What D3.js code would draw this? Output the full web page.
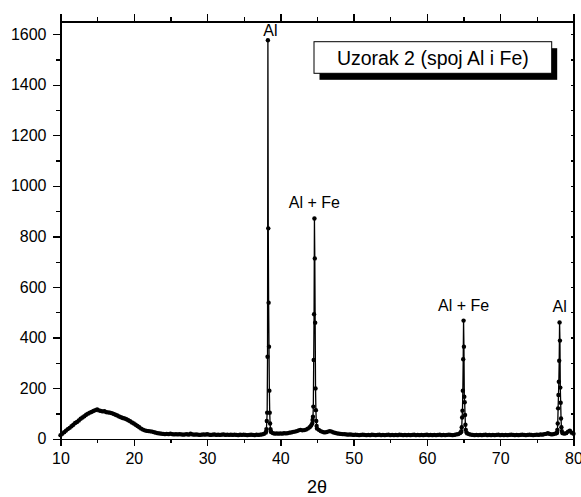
<!DOCTYPE html>
<html>
<head>
<meta charset="utf-8">
<script src="https://cdn.jsdelivr.net/npm/d3@7/dist/d3.min.js"></script>
<style>
  html, body { margin: 0; padding: 0; background: #fff; }
  svg { display: block; font-family: "Liberation Sans", Arial, sans-serif; }
  .axis path, .axis line { stroke: #000; stroke-width: 1.3; shape-rendering: crispEdges; }
  .axis text { font-size: 16px; fill: #000; }
</style>
</head>
<body>
<script>
// XRD scan of sample 2 (Al–Fe joint): [2θ, intensity]
const humpRegion = [
  [10.00,14],[10.25,20],[10.50,26],[10.75,32],[11.00,38],[11.25,43],[11.50,49],[11.75,55],
  [12.00,62],[12.25,66],[12.50,72],[12.75,79],[13.00,84],[13.25,89],[13.50,95],[13.75,99],
  [14.00,103],[14.25,106],[14.50,110],[14.75,113],[15.00,116],[15.25,112],[15.50,110],[15.75,108],
  [16.00,109],[16.25,105],[16.50,104],[16.75,103],[17.00,101],[17.25,98],[17.50,95],[17.75,92],
  [18.00,88],[18.25,85],[18.50,82],[18.75,80],[19.00,77],[19.25,73],[19.50,69],[19.75,64],
  [20.00,60],[20.25,55],[20.50,50],[20.75,45],[21.00,40],[21.25,36],[21.50,33],[21.75,31],
  [22.00,30],[22.25,29],[22.50,28],[22.75,26],[23.00,24],[23.25,22],[23.50,21],[23.75,20],[24.00,19]
];
const background1 = [
  [24.25,18],[24.50,19],[24.75,18],[25.00,20],[25.25,18],[25.50,17],[25.75,18],[26.00,17],
  [26.25,18],[26.50,17],[26.75,16],[27.00,17],[27.25,18],[27.50,16],[27.75,20],[28.00,17],
  [28.25,16],[28.50,17],[28.75,16],[29.00,15],[29.25,16],[29.50,17],[29.75,16],[30.00,18],
  [30.25,16],[30.50,15],[30.75,16],[31.00,17],[31.25,15],[31.50,16],[31.75,15],[32.00,16],
  [32.25,17],[32.50,15],[32.75,16],[33.00,15],[33.25,16],[33.50,15],[33.75,16],[34.00,15],
  [34.25,14],[34.50,16],[34.75,15],[35.00,16],[35.25,15],[35.50,14],[35.75,15],[36.00,16],
  [36.25,15],[36.50,14],[36.75,16],[37.00,15],[37.25,16],[37.50,17],[37.75,19],[38.00,24]
];
const peakAl38 = [
  [38.05,28],[38.10,38],[38.15,70],[38.20,103],[38.25,324],[38.30,1576],[38.35,832],[38.40,538],
  [38.45,364],[38.50,190],[38.55,103],[38.60,60],[38.65,38],[38.70,30],[38.75,26]
];
const background2 = [
  [39.00,22],[39.25,20],[39.50,21],[39.75,20],[40.00,21],[40.25,20],[40.50,22],[40.75,21],
  [41.00,22],[41.25,24],[41.50,25],[41.75,27],[42.00,28],[42.25,30],[42.50,33],[42.75,35],
  [43.00,33],[43.25,34],[43.50,36],[43.75,40],[44.00,45],[44.20,52],[44.35,60]
];
const peakAlFe44 = [
  [44.40,74],[44.45,87],[44.50,127],[44.55,311],[44.60,492],[44.65,871],[44.70,713],[44.75,459],
  [44.80,199],[44.85,113],[44.90,70],[44.95,50],[45.00,40]
];
const background3 = [
  [45.25,35],[45.50,30],[45.75,27],[46.00,25],[46.25,26],[46.50,28],[46.75,30],[47.00,28],
  [47.25,25],[47.50,23],[47.75,21],[48.00,20],[48.25,19],[48.50,18],[48.75,18],[49.00,17],
  [49.25,16],[49.50,17],[49.75,16],[50.00,15],[50.25,16],[50.50,15],[50.75,14],[51.00,15],
  [51.25,16],[51.50,15],[51.75,14],[52.00,15],[52.25,14],[52.50,16],[52.75,15],[53.00,14],
  [53.25,15],[53.50,16],[53.75,14],[54.00,15],[54.25,14],[54.50,15],[54.75,16],[55.00,14],
  [55.25,15],[55.50,14],[55.75,15],[56.00,14],[56.25,16],[56.50,15],[56.75,14],[57.00,15],
  [57.25,14],[57.50,15],[57.75,14],[58.00,15],[58.25,16],[58.50,14],[58.75,15],[59.00,14],
  [59.25,15],[59.50,14],[59.75,15],[60.00,16],[60.25,14],[60.50,15],[60.75,14],[61.00,15],
  [61.25,14],[61.50,15],[61.75,16],[62.00,14],[62.25,15],[62.50,14],[62.75,15],[63.00,16],
  [63.25,15],[63.50,14],[63.75,15],[64.00,17],[64.25,18],[64.50,22],[64.65,26]
];
const peakAlFe65 = [
  [64.70,30],[64.75,45],[64.80,84],[64.85,111],[64.90,190],[64.95,314],[65.00,467],[65.05,364],
  [65.10,166],[65.15,144],[65.20,94],[65.25,55],[65.30,35],[65.40,25]
];
const background4 = [
  [65.50,21],[65.75,18],[66.00,16],[66.25,15],[66.50,14],[66.75,15],[67.00,14],[67.25,15],
  [67.50,14],[67.75,15],[68.00,16],[68.25,14],[68.50,15],[68.75,14],[69.00,15],[69.25,14],
  [69.50,15],[69.75,16],[70.00,14],[70.25,15],[70.50,14],[70.75,15],[71.00,14],[71.25,15],
  [71.50,16],[71.75,15],[72.00,14],[72.25,15],[72.50,14],[72.75,15],[73.00,16],[73.25,15],
  [73.50,14],[73.75,15],[74.00,16],[74.25,15],[74.50,14],[74.75,15],[75.00,16],[75.25,15],
  [75.50,17],[75.75,16],[76.00,18],[76.25,19],[76.50,22],[76.75,19],[77.00,17],[77.25,18],
  [77.50,20],[77.70,22]
];
const peakAl78 = [
  [77.75,25],[77.80,35],[77.85,60],[77.90,120],[77.95,173],[78.00,225],[78.05,308],[78.10,460],
  [78.15,388],[78.20,202],[78.25,142],[78.30,80],[78.35,45],[78.40,30],[78.50,22]
];
const tailRegion = [
  [78.75,20],[79.00,22],[79.25,28],[79.50,32],[79.75,24],[80.00,20]
];

// Phase labels placed above the reflections
const peakLabels = [
  ["Al", 38.30],
  ["Al + Fe", 44.65],
  ["Al + Fe", 65.00],
  ["Al", 78.10]
];

const xMajorTicks = [10, 20, 30, 40, 50, 60, 70, 80];
const xMinorTicks = [15, 25, 35, 45, 55, 65, 75];
const yMajorTicks = [0, 200, 400, 600, 800, 1000, 1200, 1400, 1600];
const yMinorTicks = [100, 300, 500, 700, 900, 1100, 1300, 1500];
const yAllTicks = d3.range(0, 1601, 100);

const xTitle = "2θ";
const boxTitle = "Uzorak 2 (spoj Al i Fe)";

const scan = [].concat(humpRegion, background1, peakAl38, background2, peakAlFe44,
                       background3, peakAlFe65, background4, peakAl78, tailRegion);

const W = 581, H = 497;
const plot = { left: 60.5, right: 573.5, top: 21.5, bottom: 438.7 };

const svg = d3.select("body").append("svg").attr("width", W).attr("height", H);

const x = d3.scaleLinear().domain([10, 80]).range([plot.left, plot.right]);
const y = d3.scaleLinear().domain([0, 1650]).range([plot.bottom, plot.top]);

// Axes: bottom and left carry labels, top and right are mirror frames
const gBottom = svg.append("g").attr("class", "axis").attr("transform", `translate(0,${plot.bottom})`);
gBottom.call(d3.axisBottom(x).tickValues(xMajorTicks).tickSize(7).tickSizeOuter(0).tickPadding(7).tickFormat(d3.format("d")));
svg.append("g").attr("class", "axis").attr("transform", `translate(0,${plot.bottom})`)
  .call(d3.axisBottom(x).tickValues(xMinorTicks).tickSize(4).tickSizeOuter(0).tickFormat(""));

const gLeft = svg.append("g").attr("class", "axis").attr("transform", `translate(${plot.left},0)`);
gLeft.call(d3.axisLeft(y).tickValues(yMajorTicks).tickSize(8).tickSizeOuter(0).tickPadding(6).tickFormat(d3.format("d")));
svg.append("g").attr("class", "axis").attr("transform", `translate(${plot.left},0)`)
  .call(d3.axisLeft(y).tickValues(yMinorTicks).tickSize(4.5).tickSizeOuter(0).tickFormat(""));

svg.append("g").attr("class", "axis").attr("transform", `translate(0,${plot.top})`)
  .call(d3.axisTop(x).tickValues(xMajorTicks).tickSize(8).tickSizeOuter(0).tickFormat(""));
svg.append("g").attr("class", "axis").attr("transform", `translate(0,${plot.top})`)
  .call(d3.axisTop(x).tickValues(xMinorTicks).tickSize(4.5).tickSizeOuter(0).tickFormat(""));

svg.append("g").attr("class", "axis").attr("transform", `translate(${plot.right},0)`)
  .call(d3.axisRight(y).tickValues(yAllTicks).tickSizeInner(-3).tickSizeOuter(0).tickFormat(""));

// Axis title
svg.append("text")
  .attr("x", (plot.left + plot.right) / 2)
  .attr("y", 493)
  .attr("text-anchor", "middle")
  .style("font-size", "18px")
  .text(xTitle);

// Diffraction pattern: connected line with point markers
const line = d3.line().x(d => x(d[0])).y(d => y(d[1]));
svg.append("path")
  .datum(scan)
  .attr("d", line)
  .attr("fill", "none")
  .attr("stroke", "#000")
  .attr("stroke-width", 1.3)
  .attr("stroke-linejoin", "round");

svg.append("g").selectAll("circle")
  .data(scan)
  .join("circle")
  .attr("cx", d => x(d[0]))
  .attr("cy", d => y(d[1]))
  .attr("r", 2.2)
  .attr("fill", "#000");

// Peak labels sit just above each reflection's apex, kept inside the frame
peakLabels.forEach(([txt, pos]) => {
  const apex = d3.max(scan.filter(d => Math.abs(d[0] - pos) < 0.3), d => d[1]);
  const ly = Math.max(y(apex) - 10, plot.top + 14.5);
  svg.append("text")
    .attr("x", x(pos) + (txt === "Al" && pos < 40 ? 2.5 : 0))
    .attr("y", ly)
    .attr("text-anchor", "middle")
    .style("font-size", "16px")
    .text(txt);
});

// Title box with drop shadow
const box = { x: 314, y: 41.7, w: 237.7, h: 31.6, dx: 5.5, dy: 6.5 };
svg.append("rect")
  .attr("x", box.x + box.dx).attr("y", box.y + box.dy)
  .attr("width", box.w).attr("height", box.h)
  .attr("fill", "#000");
svg.append("rect")
  .attr("x", box.x).attr("y", box.y)
  .attr("width", box.w).attr("height", box.h)
  .attr("fill", "#fff").attr("stroke", "#000").attr("stroke-width", 1);
svg.append("text")
  .attr("x", box.x + box.w / 2)
  .attr("y", box.y + 23.5)
  .attr("text-anchor", "middle")
  .style("font-size", "19.5px")
  .text(boxTitle);
</script>
</body>
</html>
